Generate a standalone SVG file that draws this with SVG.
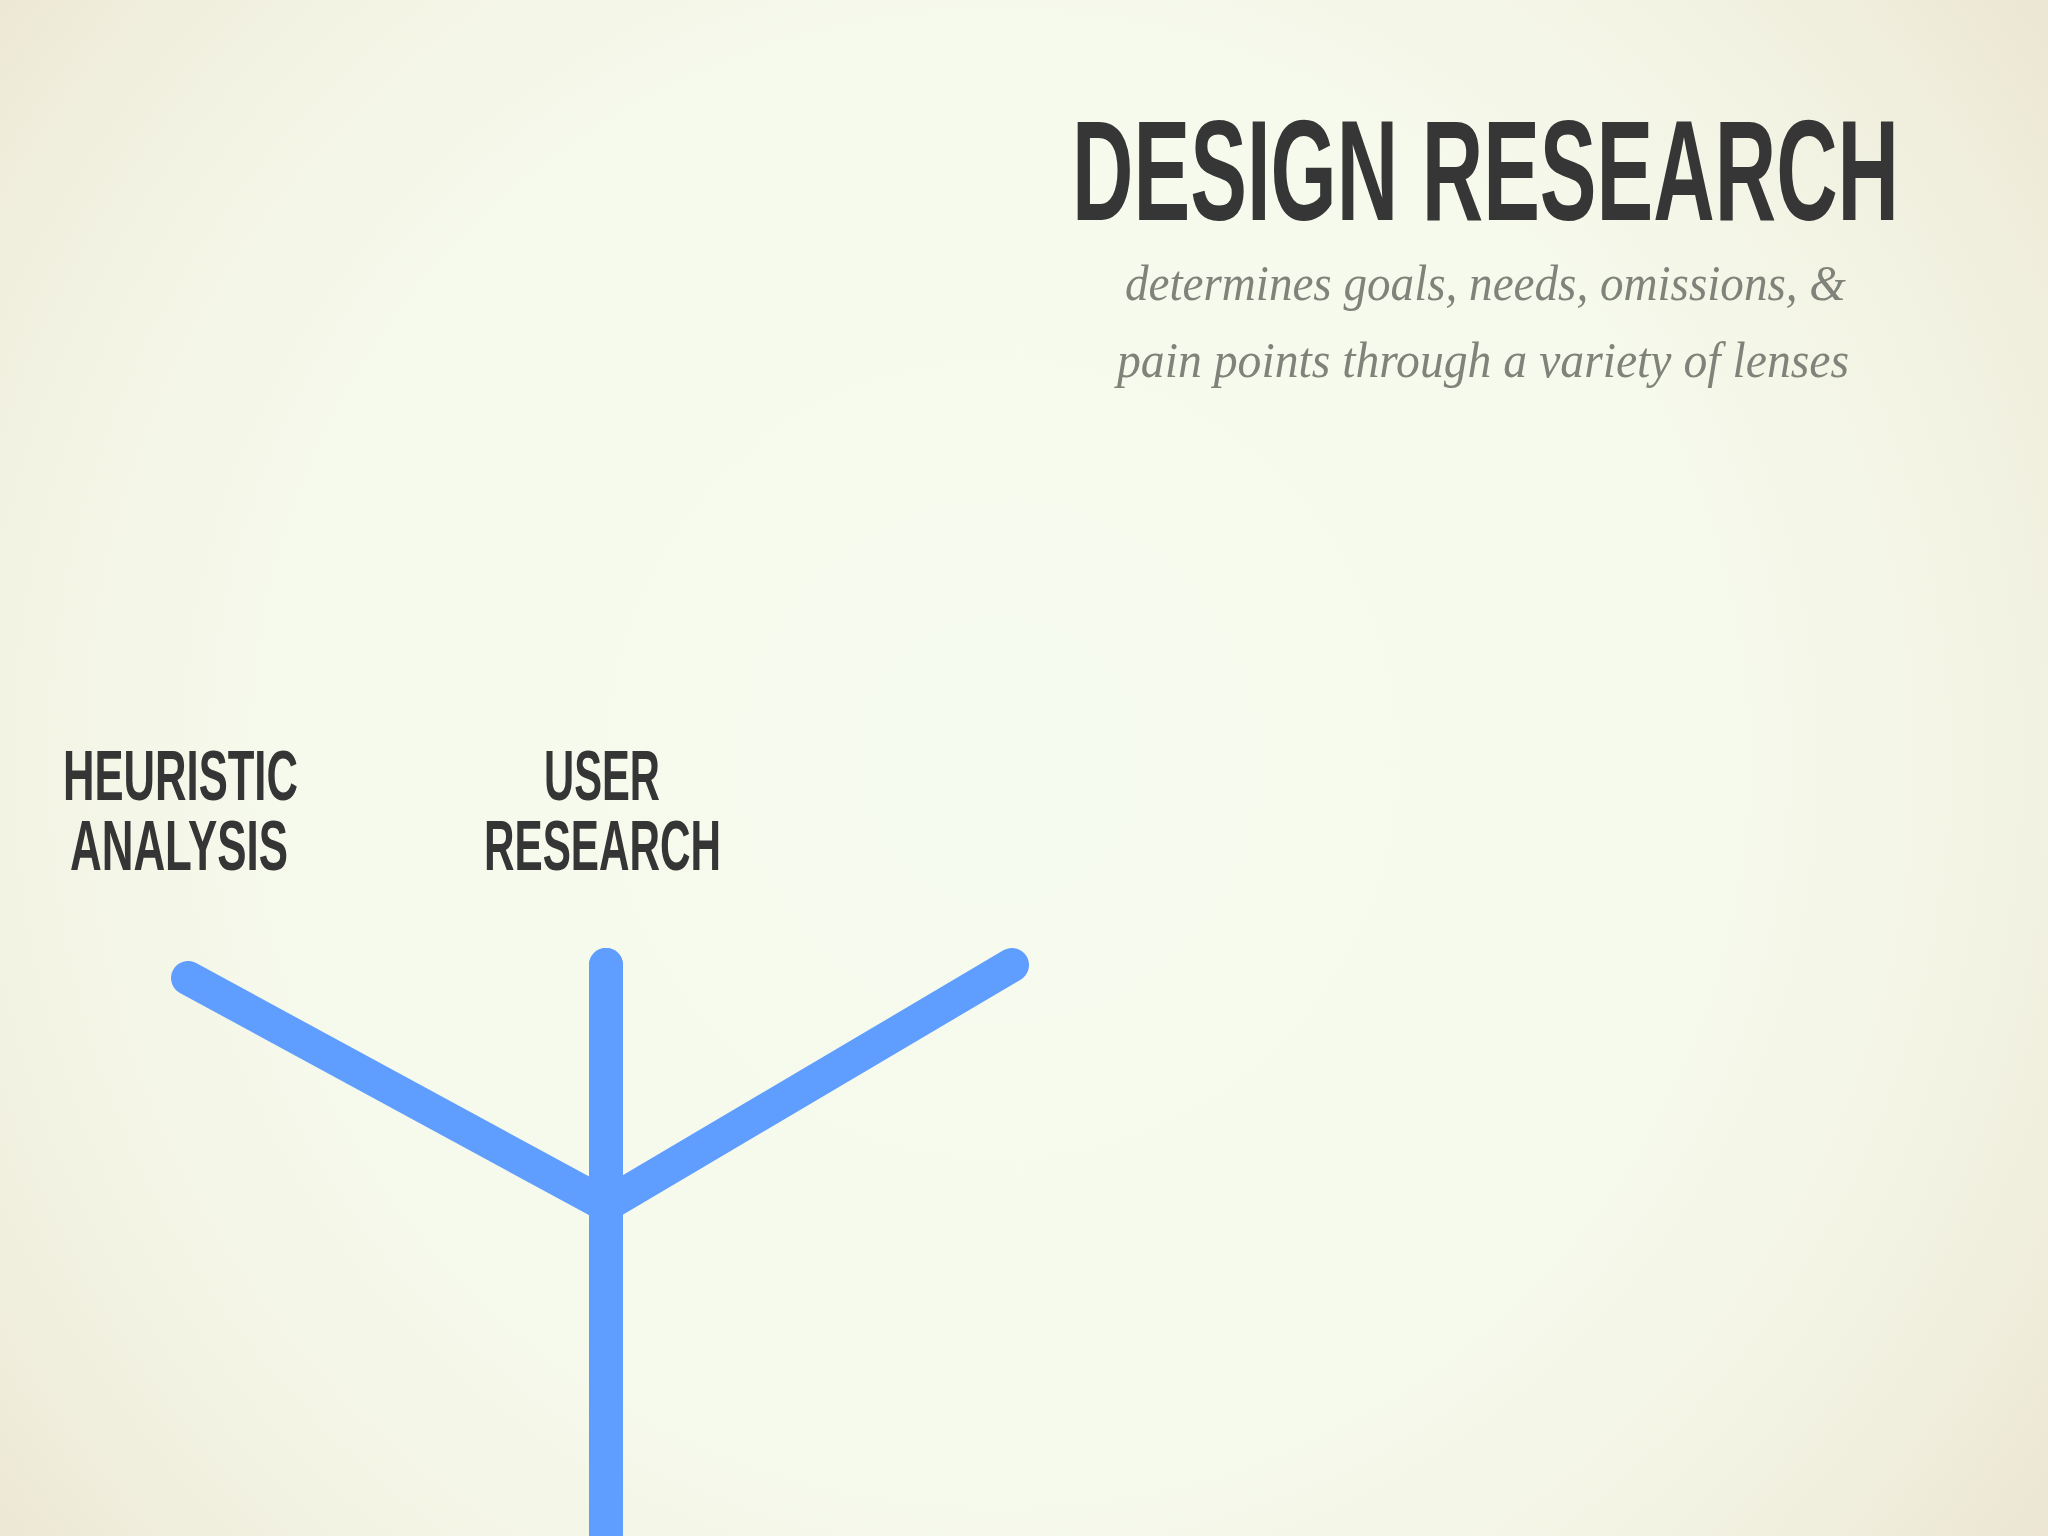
<svg xmlns="http://www.w3.org/2000/svg" width="2048" height="1536" viewBox="0 0 2048 1536">
<defs>
<radialGradient id="bg" cx="1000" cy="760" r="1300" gradientUnits="userSpaceOnUse">
<stop offset="0" stop-color="#F6FBEF"/>
<stop offset="0.55" stop-color="#F6FAEC"/>
<stop offset="0.8" stop-color="#F2F2E2"/>
<stop offset="1" stop-color="#ECE6D3"/>
</radialGradient>
<style>
.title{font-family:"Liberation Sans",Arial,sans-serif;font-weight:bold;fill:#363636}
.sub{font-family:"Liberation Serif","Times New Roman",serif;font-style:italic;fill:#80837A}
.lbl{font-family:"Liberation Sans",Arial,sans-serif;font-weight:bold;fill:#353535;font-size:70px}
.line{fill:none;stroke:#5F9EFE;stroke-width:34;stroke-linecap:round;stroke-linejoin:miter}
</style>
</defs>
<rect width="2048" height="1536" fill="url(#bg)"/>
<g id="title">
<text class="title" transform="scale(0.6,1)" x="1786.7" y="220" font-size="142" textLength="1378.3" lengthAdjust="spacingAndGlyphs">DESIGN RESEARCH</text>
<text class="sub" x="1125" y="300" font-size="50" textLength="721" lengthAdjust="spacingAndGlyphs">determines goals, needs, omissions, &amp;</text>
<text class="sub" x="1117" y="377" font-size="50" textLength="732" lengthAdjust="spacingAndGlyphs">pain points through a variety of lenses</text>
</g>
<g id="heuristic-analysis">
<text class="lbl" transform="scale(0.62,1)" x="101.6" y="800" textLength="379" lengthAdjust="spacingAndGlyphs">HEURISTIC</text>
<text class="lbl" transform="scale(0.62,1)" x="112.9" y="870" textLength="351.6" lengthAdjust="spacingAndGlyphs">ANALYSIS</text>
</g>
<g id="user-research">
<text class="lbl" transform="scale(0.62,1)" x="877.4" y="800" textLength="187.1" lengthAdjust="spacingAndGlyphs">USER</text>
<text class="lbl" transform="scale(0.62,1)" x="780.6" y="870" textLength="382.3" lengthAdjust="spacingAndGlyphs">RESEARCH</text>
</g>
<g id="connectors">
<polyline class="line" points="188,978 606,1205 1012,965"/>
<line class="line" x1="606" y1="965" x2="606" y2="1560" stroke-linecap="butt"/>
<circle cx="606" cy="965" r="17" fill="#5F9EFE"/>
</g>
</svg>
